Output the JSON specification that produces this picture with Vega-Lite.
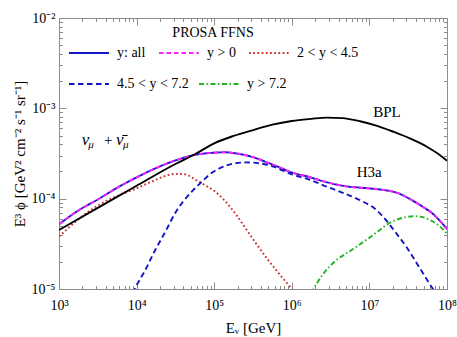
{
  "$schema": "https://vega.github.io/schema/vega-lite/v6.json",
  "width": 388,
  "height": 271,
  "autosize": "none",
  "padding": {"left": 59, "top": 18, "right": 10, "bottom": 48},
  "config": {
    "view": {"stroke": "#8c8c8c", "strokeWidth": 1},
    "font": "Liberation Serif",
    "text": {"font": "Liberation Serif"}
  },
  "layer": [
    {
      "data": {"values": [
        {"E": 1000, "phi": 5.2e-5, "s": "y: all"},
        {"E": 1778, "phi": 7.4e-5, "s": "y: all"},
        {"E": 3162, "phi": 9.8e-5, "s": "y: all"},
        {"E": 5623, "phi": 1.32e-4, "s": "y: all"},
        {"E": 10000, "phi": 1.72e-4, "s": "y: all"},
        {"E": 17783, "phi": 2.18e-4, "s": "y: all"},
        {"E": 31623, "phi": 2.65e-4, "s": "y: all"},
        {"E": 56234, "phi": 3.05e-4, "s": "y: all"},
        {"E": 100000, "phi": 3.23e-4, "s": "y: all"},
        {"E": 141254, "phi": 3.26e-4, "s": "y: all"},
        {"E": 199526, "phi": 3.15e-4, "s": "y: all"},
        {"E": 316228, "phi": 2.88e-4, "s": "y: all"},
        {"E": 501187, "phi": 2.48e-4, "s": "y: all"},
        {"E": 707946, "phi": 2.2e-4, "s": "y: all"},
        {"E": 1000000, "phi": 1.95e-4, "s": "y: all"},
        {"E": 1584893, "phi": 1.76e-4, "s": "y: all"},
        {"E": 2818383, "phi": 1.52e-4, "s": "y: all"},
        {"E": 5011872, "phi": 1.37e-4, "s": "y: all"},
        {"E": 8912509, "phi": 1.31e-4, "s": "y: all"},
        {"E": 14125375, "phi": 1.26e-4, "s": "y: all"},
        {"E": 23442288, "phi": 1.15e-4, "s": "y: all"},
        {"E": 35481339, "phi": 9.6e-5, "s": "y: all"},
        {"E": 50118723, "phi": 8.0e-5, "s": "y: all"},
        {"E": 63095734, "phi": 7.0e-5, "s": "y: all"},
        {"E": 79432823, "phi": 5.8e-5, "s": "y: all"},
        {"E": 100000000, "phi": 4.6e-5, "s": "y: all"},

        {"E": 1000, "phi": 5.2e-5, "s": "y > 0"},
        {"E": 1778, "phi": 7.4e-5, "s": "y > 0"},
        {"E": 3162, "phi": 9.8e-5, "s": "y > 0"},
        {"E": 5623, "phi": 1.32e-4, "s": "y > 0"},
        {"E": 10000, "phi": 1.72e-4, "s": "y > 0"},
        {"E": 17783, "phi": 2.18e-4, "s": "y > 0"},
        {"E": 31623, "phi": 2.65e-4, "s": "y > 0"},
        {"E": 56234, "phi": 3.05e-4, "s": "y > 0"},
        {"E": 100000, "phi": 3.23e-4, "s": "y > 0"},
        {"E": 141254, "phi": 3.26e-4, "s": "y > 0"},
        {"E": 199526, "phi": 3.15e-4, "s": "y > 0"},
        {"E": 316228, "phi": 2.88e-4, "s": "y > 0"},
        {"E": 501187, "phi": 2.48e-4, "s": "y > 0"},
        {"E": 707946, "phi": 2.2e-4, "s": "y > 0"},
        {"E": 1000000, "phi": 1.95e-4, "s": "y > 0"},
        {"E": 1584893, "phi": 1.76e-4, "s": "y > 0"},
        {"E": 2818383, "phi": 1.52e-4, "s": "y > 0"},
        {"E": 5011872, "phi": 1.37e-4, "s": "y > 0"},
        {"E": 8912509, "phi": 1.31e-4, "s": "y > 0"},
        {"E": 14125375, "phi": 1.26e-4, "s": "y > 0"},
        {"E": 23442288, "phi": 1.15e-4, "s": "y > 0"},
        {"E": 35481339, "phi": 9.6e-5, "s": "y > 0"},
        {"E": 50118723, "phi": 8.0e-5, "s": "y > 0"},
        {"E": 63095734, "phi": 7.0e-5, "s": "y > 0"},
        {"E": 79432823, "phi": 5.8e-5, "s": "y > 0"},
        {"E": 100000000, "phi": 4.6e-5, "s": "y > 0"},

        {"E": 1000, "phi": 3.8e-5, "s": "2 < y < 4.5"},
        {"E": 1778, "phi": 5.9e-5, "s": "2 < y < 4.5"},
        {"E": 3162, "phi": 8.4e-5, "s": "2 < y < 4.5"},
        {"E": 5623, "phi": 1.07e-4, "s": "2 < y < 4.5"},
        {"E": 10000, "phi": 1.3e-4, "s": "2 < y < 4.5"},
        {"E": 15849, "phi": 1.55e-4, "s": "2 < y < 4.5"},
        {"E": 22387, "phi": 1.76e-4, "s": "2 < y < 4.5"},
        {"E": 31623, "phi": 1.88e-4, "s": "2 < y < 4.5"},
        {"E": 41687, "phi": 1.86e-4, "s": "2 < y < 4.5"},
        {"E": 58884, "phi": 1.6e-4, "s": "2 < y < 4.5"},
        {"E": 79433, "phi": 1.38e-4, "s": "2 < y < 4.5"},
        {"E": 100000, "phi": 1.22e-4, "s": "2 < y < 4.5"},
        {"E": 138038, "phi": 9.4e-5, "s": "2 < y < 4.5"},
        {"E": 190546, "phi": 6.7e-5, "s": "2 < y < 4.5"},
        {"E": 263027, "phi": 4.5e-5, "s": "2 < y < 4.5"},
        {"E": 354813, "phi": 3.1e-5, "s": "2 < y < 4.5"},
        {"E": 478630, "phi": 2.18e-5, "s": "2 < y < 4.5"},
        {"E": 676083, "phi": 1.5e-5, "s": "2 < y < 4.5"},
        {"E": 954993, "phi": 1.05e-5, "s": "2 < y < 4.5"},
        {"E": 1047129, "phi": 9.5e-6, "s": "2 < y < 4.5"},

        {"E": 8913, "phi": 9e-6, "s": "4.5 < y < 7.2"},
        {"E": 10000, "phi": 1.1e-5, "s": "4.5 < y < 7.2"},
        {"E": 12589, "phi": 1.55e-5, "s": "4.5 < y < 7.2"},
        {"E": 17378, "phi": 2.7e-5, "s": "4.5 < y < 7.2"},
        {"E": 23442, "phi": 4.3e-5, "s": "4.5 < y < 7.2"},
        {"E": 31623, "phi": 7.0e-5, "s": "4.5 < y < 7.2"},
        {"E": 39811, "phi": 9.3e-5, "s": "4.5 < y < 7.2"},
        {"E": 52481, "phi": 1.22e-4, "s": "4.5 < y < 7.2"},
        {"E": 66069, "phi": 1.48e-4, "s": "4.5 < y < 7.2"},
        {"E": 89125, "phi": 1.88e-4, "s": "4.5 < y < 7.2"},
        {"E": 117490, "phi": 2.17e-4, "s": "4.5 < y < 7.2"},
        {"E": 177828, "phi": 2.45e-4, "s": "4.5 < y < 7.2"},
        {"E": 263027, "phi": 2.52e-4, "s": "4.5 < y < 7.2"},
        {"E": 398107, "phi": 2.45e-4, "s": "4.5 < y < 7.2"},
        {"E": 562341, "phi": 2.28e-4, "s": "4.5 < y < 7.2"},
        {"E": 1000000, "phi": 1.86e-4, "s": "4.5 < y < 7.2"},
        {"E": 1698244, "phi": 1.62e-4, "s": "4.5 < y < 7.2"},
        {"E": 2818383, "phi": 1.36e-4, "s": "4.5 < y < 7.2"},
        {"E": 4570882, "phi": 1.16e-4, "s": "4.5 < y < 7.2"},
        {"E": 7585776, "phi": 9.6e-5, "s": "4.5 < y < 7.2"},
        {"E": 12302688, "phi": 7.5e-5, "s": "4.5 < y < 7.2"},
        {"E": 16595869, "phi": 5.7e-5, "s": "4.5 < y < 7.2"},
        {"E": 22387211, "phi": 4.1e-5, "s": "4.5 < y < 7.2"},
        {"E": 30199517, "phi": 2.9e-5, "s": "4.5 < y < 7.2"},
        {"E": 44668359, "phi": 1.7e-5, "s": "4.5 < y < 7.2"},
        {"E": 66069345, "phi": 1.0e-5, "s": "4.5 < y < 7.2"},
        {"E": 70794578, "phi": 9.2e-6, "s": "4.5 < y < 7.2"},

        {"E": 1778279, "phi": 9e-6, "s": "y > 7.2"},
        {"E": 1905461, "phi": 1.0e-5, "s": "y > 7.2"},
        {"E": 2511886, "phi": 1.45e-5, "s": "y > 7.2"},
        {"E": 3548134, "phi": 2.0e-5, "s": "y > 7.2"},
        {"E": 5888437, "phi": 2.7e-5, "s": "y > 7.2"},
        {"E": 10471285, "phi": 3.8e-5, "s": "y > 7.2"},
        {"E": 19054607, "phi": 5.5e-5, "s": "y > 7.2"},
        {"E": 28183829, "phi": 6.2e-5, "s": "y > 7.2"},
        {"E": 39810717, "phi": 6.4e-5, "s": "y > 7.2"},
        {"E": 50118723, "phi": 6.2e-5, "s": "y > 7.2"},
        {"E": 63095734, "phi": 5.7e-5, "s": "y > 7.2"},
        {"E": 79432823, "phi": 5.0e-5, "s": "y > 7.2"},
        {"E": 100000000, "phi": 4.1e-5, "s": "y > 7.2"}
      ]},
      "mark": {"type": "line", "strokeWidth": 1.9, "interpolate": "monotone", "clip": true},
      "encoding": {
        "x": {
          "field": "E", "type": "quantitative",
          "scale": {"type": "log", "domain": [1000, 100000000], "nice": false},
          "axis": {
            "orient": "bottom",
            "values": [1000,2000,3000,4000,5000,6000,7000,8000,9000,10000,20000,30000,40000,50000,60000,70000,80000,90000,100000,200000,300000,400000,500000,600000,700000,800000,900000,1000000,2000000,3000000,4000000,5000000,6000000,7000000,8000000,9000000,10000000,20000000,30000000,40000000,50000000,60000000,70000000,80000000,90000000,100000000],
            "labelExpr": "datum.value==1000?'10³':datum.value==10000?'10⁴':datum.value==100000?'10⁵':datum.value==1000000?'10⁶':datum.value==10000000?'10⁷':datum.value==100000000?'10⁸':''",
            "tickSize": {"condition": {"test": "abs(log(datum.value)/LN10-round(log(datum.value)/LN10))<0.001", "value": -7}, "value": -3.5},
            "tickColor": "#8c8c8c",
            "tickWidth": 1,
            "domain": false,
            "grid": false,
            "labelFont": "Liberation Serif",
            "labelFontSize": 14,
            "labelColor": "black",
            "labelPadding": 16,
            "labelFlush": false,
            "labelOverlap": false,
            "title": "Eᵥ  [GeV]",
            "titleFont": "Liberation Serif",
            "titleFontSize": 15,
            "titleFontWeight": "normal",
            "titleColor": "black",
            "titlePadding": 5
          }
        },
        "y": {
          "field": "phi", "type": "quantitative",
          "scale": {"type": "log", "domain": [0.00001, 0.01], "nice": false},
          "axis": {
            "orient": "left",
            "values": [0.00001,0.00002,0.00003,0.00004,0.00005,0.00006,0.00007,0.00008,0.00009,0.0001,0.0002,0.0003,0.0004,0.0005,0.0006,0.0007,0.0008,0.0009,0.001,0.002,0.003,0.004,0.005,0.006,0.007,0.008,0.009,0.01],
            "labelExpr": "datum.value==0.01?'10⁻²':datum.value==0.001?'10⁻³':datum.value==0.0001?'10⁻⁴':datum.value==0.00001?'10⁻⁵':''",
            "tickSize": {"condition": {"test": "abs(log(datum.value)/LN10-round(log(datum.value)/LN10))<0.001", "value": -7}, "value": -3.5},
            "tickColor": "#8c8c8c",
            "tickWidth": 1,
            "domain": false,
            "grid": false,
            "labelFont": "Liberation Serif",
            "labelFontSize": 14,
            "labelColor": "black",
            "labelPadding": 11,
            "labelFlush": false,
            "labelOverlap": false,
            "title": "E³ ϕ [GeV² cm⁻² s⁻¹ sr⁻¹]",
            "titleFont": "Liberation Serif",
            "titleFontSize": 15,
            "titleFontWeight": "normal",
            "titleColor": "black",
            "titlePadding": 4
          }
        },
        "color": {
          "field": "s", "type": "nominal",
          "scale": {
            "domain": ["y: all", "y > 0", "2 < y < 4.5", "4.5 < y < 7.2", "y > 7.2"],
            "range": ["#1515c4", "#ff22ff", "#cc3030", "#1515c4", "#22b422"]
          },
          "legend": {
            "values": ["y: all", "y > 0", "2 < y < 4.5"],
            "orient": "none", "legendX": 9, "legendY": 8,
            "direction": "horizontal",
            "title": "PROSA FFNS", "titleAnchor": "middle",
            "titleFont": "Liberation Serif", "titleFontSize": 14, "titleFontWeight": "normal", "titleColor": "black",
            "titlePadding": -8,
            "labelFont": "Liberation Serif", "labelFontSize": 14, "labelColor": "black",
            "labelOffset": 7, "symbolType": "stroke", "symbolSize": 1600, "symbolStrokeWidth": 2,
            "columnPadding": 9, "padding": 0,
            "encode": {
              "symbols": {"update": {"strokeDash": {"signal": "datum.value=='y > 0'?[4.5,3]:datum.value=='2 < y < 4.5'?[1.8,2.4]:[1,0]"}}}
            }
          }
        },
        "strokeDash": {
          "field": "s", "type": "nominal",
          "scale": {
            "domain": ["4.5 < y < 7.2", "y > 7.2", "y: all", "y > 0", "2 < y < 4.5"],
            "range": [[5.5, 3.5], [5, 2.5, 1.5, 2.5], [1, 0], [4.5, 3], [1.8, 2.4]]
          },
          "legend": {
            "values": ["4.5 < y < 7.2", "y > 7.2"],
            "orient": "none", "legendX": 9, "legendY": 45,
            "direction": "horizontal",
            "title": null,
            "labelFont": "Liberation Serif", "labelFontSize": 14, "labelColor": "black",
            "labelOffset": 7, "symbolType": "stroke", "symbolSize": 1600, "symbolStrokeWidth": 2,
            "columnPadding": 6, "padding": 0,
            "encode": {
              "symbols": {"update": {"stroke": {"signal": "datum.value=='y > 7.2'?'#22b422':'#1515c4'"}, "strokeWidth": {"value": 2}}}
            }
          }
        }
      }
    },
    {
      "data": {"values": [
        {"E": 1000, "phi": 4.5e-5},
        {"E": 3162, "phi": 7.9e-5},
        {"E": 10000, "phi": 1.39e-4},
        {"E": 31623, "phi": 2.42e-4},
        {"E": 56234, "phi": 3.1e-4},
        {"E": 100000, "phi": 4.1e-4},
        {"E": 177828, "phi": 4.95e-4},
        {"E": 316228, "phi": 5.75e-4},
        {"E": 562341, "phi": 6.6e-4},
        {"E": 1000000, "phi": 7.25e-4},
        {"E": 1778279, "phi": 7.65e-4},
        {"E": 2818383, "phi": 7.9e-4},
        {"E": 4466836, "phi": 7.8e-4},
        {"E": 7585776, "phi": 7.2e-4},
        {"E": 12589254, "phi": 6.4e-4},
        {"E": 20417379, "phi": 5.5e-4},
        {"E": 33113112, "phi": 4.65e-4},
        {"E": 54954087, "phi": 3.76e-4},
        {"E": 74131024, "phi": 3.2e-4},
        {"E": 100000000, "phi": 2.63e-4}
      ]},
      "mark": {"type": "line", "color": "black", "strokeWidth": 1.9, "interpolate": "monotone", "clip": true},
      "encoding": {
        "x": {
          "field": "E", "type": "quantitative",
          "scale": {"type": "log", "domain": [1000, 100000000], "nice": false},
          "axis": {
            "orient": "top",
            "values": [1000,2000,3000,4000,5000,6000,7000,8000,9000,10000,20000,30000,40000,50000,60000,70000,80000,90000,100000,200000,300000,400000,500000,600000,700000,800000,900000,1000000,2000000,3000000,4000000,5000000,6000000,7000000,8000000,9000000,10000000,20000000,30000000,40000000,50000000,60000000,70000000,80000000,90000000,100000000],
            "labels": false, "title": null, "domain": false, "grid": false,
            "tickSize": {"condition": {"test": "abs(log(datum.value)/LN10-round(log(datum.value)/LN10))<0.001", "value": -7}, "value": -3.5},
            "tickColor": "#8c8c8c", "tickWidth": 1
          }
        },
        "y": {
          "field": "phi", "type": "quantitative",
          "scale": {"type": "log", "domain": [0.00001, 0.01], "nice": false},
          "axis": {
            "orient": "right",
            "values": [0.00001,0.00002,0.00003,0.00004,0.00005,0.00006,0.00007,0.00008,0.00009,0.0001,0.0002,0.0003,0.0004,0.0005,0.0006,0.0007,0.0008,0.0009,0.001,0.002,0.003,0.004,0.005,0.006,0.007,0.008,0.009,0.01],
            "labels": false, "title": null, "domain": false, "grid": false,
            "tickSize": {"condition": {"test": "abs(log(datum.value)/LN10-round(log(datum.value)/LN10))<0.001", "value": -7}, "value": -3.5},
            "tickColor": "#8c8c8c", "tickWidth": 1
          }
        }
      }
    },
    {
      "data": {"values": [
        {"E": 11200000, "phi": 7.94e-4, "label": "BPL"},
        {"E": 6860000, "phi": 1.75e-4, "label": "H3a"},
        {"E": 3802, "phi": 3.93e-4, "label": "+"}
      ]},
      "mark": {"type": "text", "align": "left", "baseline": "alphabetic", "fontSize": 15, "font": "Liberation Serif", "color": "black"},
      "encoding": {
        "x": {"field": "E", "type": "quantitative", "scale": {"type": "log", "domain": [1000, 100000000], "nice": false}, "axis": null},
        "y": {"field": "phi", "type": "quantitative", "scale": {"type": "log", "domain": [0.00001, 0.01], "nice": false}, "axis": null},
        "text": {"field": "label"}
      }
    },
    {
      "data": {"values": [
        {"E": 1961, "phi": 3.93e-4, "label": "ν"},
        {"E": 5427, "phi": 3.93e-4, "label": "ν̄"}
      ]},
      "mark": {"type": "text", "align": "left", "baseline": "alphabetic", "fontSize": 17, "font": "Liberation Serif", "fontStyle": "italic", "color": "black"},
      "encoding": {
        "x": {"field": "E", "type": "quantitative", "scale": {"type": "log", "domain": [1000, 100000000], "nice": false}, "axis": null},
        "y": {"field": "phi", "type": "quantitative", "scale": {"type": "log", "domain": [0.00001, 0.01], "nice": false}, "axis": null},
        "text": {"field": "label"}
      }
    },
    {
      "data": {"values": [
        {"E": 2386, "phi": 3.63e-4, "label": "μ"},
        {"E": 6677, "phi": 3.63e-4, "label": "μ"}
      ]},
      "mark": {"type": "text", "align": "left", "baseline": "alphabetic", "fontSize": 11, "font": "Liberation Serif", "fontStyle": "italic", "color": "black"},
      "encoding": {
        "x": {"field": "E", "type": "quantitative", "scale": {"type": "log", "domain": [1000, 100000000], "nice": false}, "axis": null},
        "y": {"field": "phi", "type": "quantitative", "scale": {"type": "log", "domain": [0.00001, 0.01], "nice": false}, "axis": null},
        "text": {"field": "label"}
      }
    }
  ],
  "resolve": {"axis": {"x": "independent", "y": "independent"}}
}
